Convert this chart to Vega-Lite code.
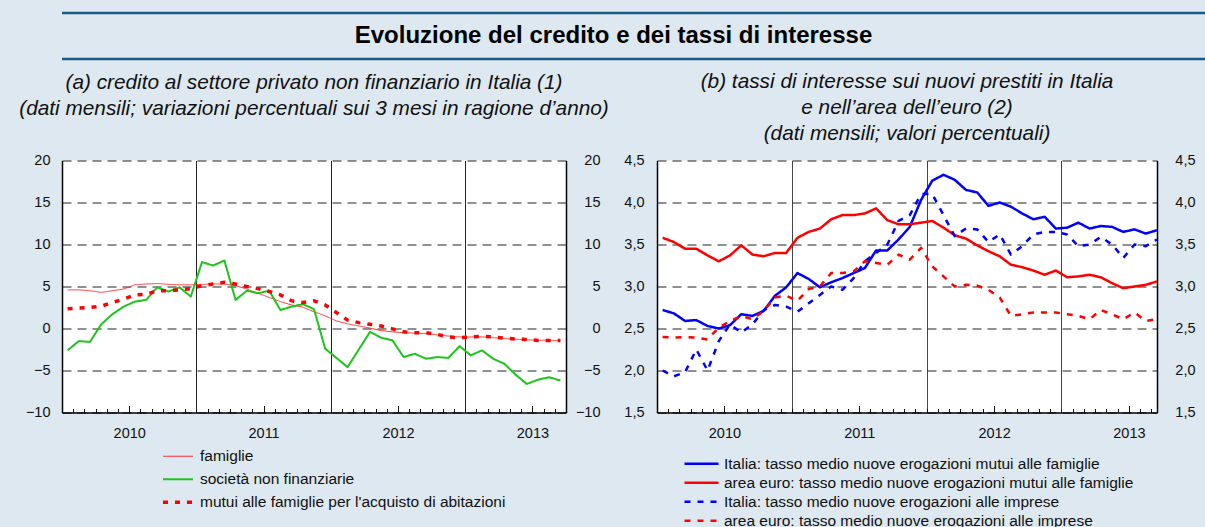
{
"$schema": "https://vega.github.io/schema/vega-lite/v6.json",
"background": "#dde8f0",
"padding": {"left": 8, "top": 11, "right": 0, "bottom": 0},
"config": {
  "font": "Liberation Sans",
  "view": {"stroke": null},
  "style": {"cell": {"stroke": null}},
  "axis": {"labelFont": "Liberation Sans", "labelFontSize": 14.5, "labelColor": "#111", "title": null},
  "legend": {"labelFont": "Liberation Sans", "labelFontSize": 15.5, "labelColor": "#111"}
},
"datasets": {
  "credito": [
    {"m":0,"F":4.6,"S":-2.6,"M":2.35},{"m":1,"F":4.6,"S":-1.5,"M":2.45},{"m":2,"F":4.5,"S":-1.6,"M":2.5},
    {"m":3,"F":4.3,"S":0.5,"M":2.65},{"m":4,"F":4.5,"S":1.7,"M":3.1},{"m":5,"F":4.7,"S":2.6,"M":3.5},
    {"m":6,"F":5.2,"S":3.2,"M":4.0},{"m":7,"F":5.3,"S":3.4,"M":4.05},{"m":8,"F":5.35,"S":4.9,"M":4.5},
    {"m":9,"F":5.25,"S":4.4,"M":4.5},{"m":10,"F":5.2,"S":4.9,"M":4.6},{"m":11,"F":5.2,"S":3.8,"M":4.75},
    {"m":12,"F":5.25,"S":7.9,"M":5.1},{"m":13,"F":5.3,"S":7.5,"M":5.3},{"m":14,"F":5.3,"S":8.1,"M":5.5},
    {"m":15,"F":5.1,"S":3.4,"M":5.3},{"m":16,"F":4.7,"S":4.5,"M":5.0},{"m":17,"F":4.2,"S":4.2,"M":4.75},
    {"m":18,"F":3.7,"S":4.5,"M":4.4},{"m":19,"F":3.2,"S":2.2,"M":4.0},{"m":20,"F":2.8,"S":2.6,"M":3.3},
    {"m":21,"F":2.55,"S":2.9,"M":3.1},{"m":22,"F":2.0,"S":2.3,"M":3.3},{"m":23,"F":1.5,"S":-2.4,"M":2.8},
    {"m":24,"F":0.9,"S":-3.5,"M":1.9},{"m":25,"F":0.55,"S":-4.6,"M":1.0},{"m":26,"F":0.3,"S":-2.5,"M":0.7},
    {"m":27,"F":0.05,"S":-0.4,"M":0.5},{"m":28,"F":-0.25,"S":-1.1,"M":0.3},{"m":29,"F":-0.4,"S":-1.4,"M":-0.05},
    {"m":30,"F":-0.5,"S":-3.4,"M":-0.4},{"m":31,"F":-0.55,"S":-3.0,"M":-0.5},{"m":32,"F":-0.6,"S":-3.6,"M":-0.5},
    {"m":33,"F":-0.75,"S":-3.4,"M":-0.7},{"m":34,"F":-0.9,"S":-3.5,"M":-1.0},{"m":35,"F":-1.0,"S":-2.1,"M":-1.1},
    {"m":36,"F":-1.0,"S":-3.2,"M":-1.0},{"m":37,"F":-1.0,"S":-2.6,"M":-0.92},{"m":38,"F":-1.1,"S":-3.6,"M":-1.0},
    {"m":39,"F":-1.2,"S":-4.2,"M":-1.15},{"m":40,"F":-1.27,"S":-5.5,"M":-1.25},{"m":41,"F":-1.35,"S":-6.6,"M":-1.3},
    {"m":42,"F":-1.4,"S":-6.1,"M":-1.43},{"m":43,"F":-1.4,"S":-5.8,"M":-1.42},{"m":44,"F":-1.45,"S":-6.2,"M":-1.42}
  ],
  "tassi": [
    {"m":0,"IF":2.72,"EF":3.58,"II":2.0,"EI":2.4},{"m":1,"IF":2.68,"EF":3.53,"II":1.93,"EI":2.39},
    {"m":2,"IF":2.59,"EF":3.45,"II":1.98,"EI":2.4},{"m":3,"IF":2.6,"EF":3.45,"II":2.25,"EI":2.39},
    {"m":4,"IF":2.53,"EF":3.37,"II":2.0,"EI":2.37},{"m":5,"IF":2.5,"EF":3.3,"II":2.35,"EI":2.51},
    {"m":6,"IF":2.54,"EF":3.37,"II":2.55,"EI":2.59},{"m":7,"IF":2.67,"EF":3.49,"II":2.45,"EI":2.65},
    {"m":8,"IF":2.65,"EF":3.38,"II":2.55,"EI":2.61},{"m":9,"IF":2.71,"EF":3.36,"II":2.72,"EI":2.71},
    {"m":10,"IF":2.89,"EF":3.4,"II":2.78,"EI":2.87},{"m":11,"IF":2.99,"EF":3.4,"II":2.76,"EI":2.89},
    {"m":12,"IF":3.16,"EF":3.58,"II":2.7,"EI":2.83},{"m":13,"IF":3.09,"EF":3.65,"II":2.8,"EI":2.97},
    {"m":14,"IF":2.99,"EF":3.69,"II":2.9,"EI":3.0},{"m":15,"IF":3.05,"EF":3.8,"II":3.0,"EI":3.16},
    {"m":16,"IF":3.1,"EF":3.85,"II":2.96,"EI":3.16},{"m":17,"IF":3.16,"EF":3.85,"II":3.1,"EI":3.18},
    {"m":18,"IF":3.22,"EF":3.87,"II":3.3,"EI":3.3},{"m":19,"IF":3.43,"EF":3.93,"II":3.4,"EI":3.28},
    {"m":20,"IF":3.43,"EF":3.79,"II":3.5,"EI":3.26},{"m":21,"IF":3.56,"EF":3.74,"II":3.78,"EI":3.38},
    {"m":22,"IF":3.71,"EF":3.74,"II":3.85,"EI":3.32},{"m":23,"IF":4.03,"EF":3.76,"II":4.1,"EI":3.46},
    {"m":24,"IF":4.26,"EF":3.78,"II":4.1,"EI":3.24},{"m":25,"IF":4.33,"EF":3.7,"II":3.85,"EI":3.12},
    {"m":26,"IF":4.27,"EF":3.61,"II":3.6,"EI":3.0},{"m":27,"IF":4.15,"EF":3.57,"II":3.69,"EI":3.02},
    {"m":28,"IF":4.12,"EF":3.49,"II":3.68,"EI":3.01},{"m":29,"IF":3.96,"EF":3.42,"II":3.53,"EI":2.96},
    {"m":30,"IF":4.0,"EF":3.36,"II":3.62,"EI":2.87},{"m":31,"IF":3.95,"EF":3.26,"II":3.38,"EI":2.65},
    {"m":32,"IF":3.87,"EF":3.23,"II":3.48,"EI":2.67},{"m":33,"IF":3.8,"EF":3.19,"II":3.62,"EI":2.69},
    {"m":34,"IF":3.83,"EF":3.14,"II":3.65,"EI":2.69},{"m":35,"IF":3.69,"EF":3.19,"II":3.65,"EI":2.69},
    {"m":36,"IF":3.7,"EF":3.11,"II":3.62,"EI":2.67},{"m":37,"IF":3.76,"EF":3.12,"II":3.48,"EI":2.65},
    {"m":38,"IF":3.69,"EF":3.14,"II":3.5,"EI":2.61},{"m":39,"IF":3.72,"EF":3.11,"II":3.59,"EI":2.72},
    {"m":40,"IF":3.71,"EF":3.04,"II":3.5,"EI":2.67},{"m":41,"IF":3.65,"EF":2.98,"II":3.34,"EI":2.61},
    {"m":42,"IF":3.68,"EF":3.0,"II":3.5,"EI":2.69},{"m":43,"IF":3.63,"EF":3.02,"II":3.48,"EI":2.59},
    {"m":44,"IF":3.67,"EF":3.06,"II":3.56,"EI":2.61}
  ]
},
"spacing": 9.5,
"vconcat": [
  {
    "width": 1143, "height": 46,
    "view": {"stroke": null},
    "data": {"values": [{"y": 0}, {"y": 1}]},
    "layer": [
      {"mark": {"type": "rule", "color": "#1b5c88", "strokeWidth": 2.5},
       "encoding": {"y": {"field": "y", "type": "quantitative", "scale": {"domain": [0, 1], "nice": false}, "axis": null}}},
      {"data": {"values": [{"t": "Evoluzione del credito e dei tassi di interesse"}]},
       "mark": {"type": "text", "font": "Liberation Sans", "fontSize": 24, "fontWeight": "bold", "color": "#000", "baseline": "middle", "align": "center", "dx": -20, "dy": 0},
       "encoding": {"text": {"field": "t", "type": "nominal"}}}
    ]
  },
  {
    "bounds": "flush",
    "spacing": 91,
    "resolve": {
      "scale": {"color": "independent", "strokeDash": "independent", "strokeWidth": "independent"},
      "legend": {"color": "independent", "strokeDash": "independent", "strokeWidth": "independent"}
    },
    "hconcat": [
      {
        "width": 504, "height": 252,
        "view": {"fill": "white", "stroke": null},
        "title": {"text": ["(a) credito al settore privato non finanziario in Italia (1)", "(dati mensili; variazioni percentuali sui 3 mesi in ragione d’anno)"],
                  "font": "Liberation Sans", "fontSize": 20.8, "fontStyle": "italic", "fontWeight": "normal", "lineHeight": 26, "anchor": "middle", "frame": "group", "offset": 32.5, "color": "#111"},
        "data": {"name": "credito"},
        "transform": [{"fold": ["F", "S", "M"], "as": ["s", "v"]}],
        "layer": [
          {
            "mark": {"type": "line", "strokeCap": "butt", "strokeJoin": "round"},
            "encoding": {
              "x": {"field": "m", "type": "quantitative", "scale": {"domain": [-0.5, 44.5], "nice": false, "zero": false},
                    "axis": {"values": [-0.5,0.5,1.5,2.5,3.5,4.5,5.5,6.5,7.5,8.5,9.5,10.5,11.5,12.5,13.5,14.5,15.5,16.5,17.5,18.5,19.5,20.5,21.5,22.5,23.5,24.5,25.5,26.5,27.5,28.5,29.5,30.5,31.5,32.5,33.5,34.5,35.5,36.5,37.5,38.5,39.5,40.5,41.5,42.5,43.5,44.5],
                             "grid": true, "gridColor": "#222", "gridWidth": 1,
                             "gridOpacity": {"condition": {"test": "datum.value == 11.5 || datum.value == 23.5 || datum.value == 35.5", "value": 1}, "value": 0},
                             "ticks": true, "tickColor": "#111", "tickWidth": 1,
                             "tickSize": {"condition": {"test": "(datum.value + 6.5) % 12 == 0", "value": -7}, "value": -4},
                             "domain": true, "domainColor": "#000", "domainWidth": 1.5,
                             "labelExpr": "(datum.value + 6.5) % 12 == 0 ? '' + (2010 + (datum.value - 5.5) / 12) : ''",
                             "labelPadding": 21, "labelOverlap": false, "labelFlush": false, "labelBound": false, "title": null}},
              "y": {"field": "v", "type": "quantitative", "scale": {"domain": [-10, 20], "nice": false, "zero": false},
                    "axis": {"orient": "left", "values": [-10,-5,0,5,10,15,20], "grid": true, "gridDash": [9, 6], "gridColor": "#222", "gridWidth": 1,
                             "domain": true, "domainColor": "#000", "domainWidth": 1.5, "ticks": false, "tickSize": 0, "labelPadding": 12, "minExtent": 54, "title": null}},
              "color": {"field": "s", "type": "nominal", "scale": {"domain": ["F", "S", "M"], "range": ["#ff3030", "#1ec31e", "#ff0000"]},
                        "legend": {"orient": "none", "legendX": 99, "legendY": 284.4, "direction": "vertical", "title": null, "padding": 0, "rowPadding": 0, "clipHeight": 22.7, "symbolSize": 900, "labelOffset": 5, "labelLimit": 700,
                                   "labelExpr": "datum.label == 'F' ? 'famiglie' : datum.label == 'S' ? 'società non finanziarie' : \"mutui alle famiglie per l'acquisto di abitazioni\""}},
              "strokeDash": {"field": "s", "type": "nominal", "scale": {"domain": ["F", "S", "M"], "range": [[1, 0], [1, 0], [5, 7]]},
                        "legend": {"orient": "none", "legendX": 99, "legendY": 284.4, "direction": "vertical", "title": null, "padding": 0, "rowPadding": 0, "clipHeight": 22.7, "symbolSize": 900, "labelOffset": 5, "labelLimit": 700,
                                   "labelExpr": "datum.label == 'F' ? 'famiglie' : datum.label == 'S' ? 'società non finanziarie' : \"mutui alle famiglie per l'acquisto di abitazioni\""}},
              "strokeWidth": {"field": "s", "type": "nominal", "scale": {"type": "ordinal", "domain": ["F", "S", "M"], "range": [1, 2, 3.5]},
                        "legend": {"orient": "none", "legendX": 99, "legendY": 284.4, "direction": "vertical", "title": null, "padding": 0, "rowPadding": 0, "clipHeight": 22.7, "symbolSize": 900, "labelOffset": 5, "labelLimit": 700,
                                   "labelExpr": "datum.label == 'F' ? 'famiglie' : datum.label == 'S' ? 'società non finanziarie' : \"mutui alle famiglie per l'acquisto di abitazioni\""}}
            }
          },
          {
            "mark": {"type": "rule", "opacity": 0},
            "encoding": {
              "y": {"field": "v", "type": "quantitative",
                    "axis": {"orient": "right", "values": [-10,-5,0,5,10,15,20], "grid": false, "domain": true, "domainColor": "#000", "domainWidth": 1.5,
                             "ticks": false, "tickSize": 0, "labelAlign": "right", "labelPadding": 34, "title": null}}
            }
          }
        ],
        "resolve": {"axis": {"y": "independent"}}
      },
      {
        "width": 500, "height": 252,
        "view": {"fill": "white", "stroke": null},
        "title": {"text": ["(b) tassi di interesse sui nuovi prestiti in Italia", "e nell’area dell’euro (2)", "(dati mensili; valori percentuali)"],
                  "font": "Liberation Sans", "fontSize": 20.8, "fontStyle": "italic", "fontWeight": "normal", "lineHeight": 26, "anchor": "middle", "frame": "group", "offset": 7.5, "color": "#111"},
        "data": {"name": "tassi"},
        "transform": [{"fold": ["IF", "EF", "II", "EI"], "as": ["s", "v"]}],
        "layer": [
          {
            "mark": {"type": "line", "strokeWidth": 2.5, "strokeCap": "butt", "strokeJoin": "round"},
            "encoding": {
              "x": {"field": "m", "type": "quantitative", "scale": {"domain": [-0.5, 44], "nice": false, "zero": false},
                    "axis": {"values": [-0.5,0.5,1.5,2.5,3.5,4.5,5.5,6.5,7.5,8.5,9.5,10.5,11.5,12.5,13.5,14.5,15.5,16.5,17.5,18.5,19.5,20.5,21.5,22.5,23.5,24.5,25.5,26.5,27.5,28.5,29.5,30.5,31.5,32.5,33.5,34.5,35.5,36.5,37.5,38.5,39.5,40.5,41.5,42.5,43.5],
                             "grid": true, "gridColor": "#444", "gridWidth": 1,
                             "gridOpacity": {"condition": {"test": "datum.value == 11.5 || datum.value == 23.5 || datum.value == 35.5", "value": 1}, "value": 0},
                             "ticks": true, "tickColor": "#111", "tickWidth": 1,
                             "tickSize": {"condition": {"test": "(datum.value + 6.5) % 12 == 0", "value": -7}, "value": -4},
                             "domain": true, "domainColor": "#000", "domainWidth": 1.5,
                             "labelExpr": "(datum.value + 6.5) % 12 == 0 ? '' + (2010 + (datum.value - 5.5) / 12) : ''",
                             "labelPadding": 21, "labelOverlap": false, "labelFlush": false, "labelBound": false, "title": null}},
              "y": {"field": "v", "type": "quantitative", "scale": {"domain": [1.5, 4.5], "nice": false, "zero": false},
                    "axis": {"orient": "left", "values": [1.5,2,2.5,3,3.5,4,4.5], "grid": true, "gridDash": [9, 6], "gridColor": "#222", "gridWidth": 1,
                             "domain": true, "domainColor": "#000", "domainWidth": 1.5, "ticks": false, "tickSize": 0, "labelPadding": 13, "title": null,
                             "labelExpr": "replace(format(datum.value, '.1f'), '.', ',')"}},
              "color": {"field": "s", "type": "nominal", "scale": {"domain": ["IF", "EF", "II", "EI"], "range": ["#0000ff", "#ff0000", "#0000ff", "#ff0000"]},
                        "legend": {"orient": "none", "legendX": 26, "legendY": 294.3, "direction": "vertical", "title": null, "padding": 0, "rowPadding": 0, "clipHeight": 18.1, "symbolSize": 1156, "symbolStrokeWidth": 2.5, "labelOffset": 4, "labelLimit": 800,
                                   "labelExpr": "datum.label == 'IF' ? 'Italia: tasso medio nuove erogazioni mutui alle famiglie' : datum.label == 'EF' ? 'area euro: tasso medio nuove erogazioni mutui alle famiglie' : datum.label == 'II' ? 'Italia: tasso medio nuove erogazioni alle imprese' : 'area euro: tasso medio nuove erogazioni alle imprese'"}},
              "strokeDash": {"field": "s", "type": "nominal", "scale": {"domain": ["IF", "EF", "II", "EI"], "range": [[1, 0], [1, 0], [6, 7], [6, 7]]},
                        "legend": {"orient": "none", "legendX": 26, "legendY": 294.3, "direction": "vertical", "title": null, "padding": 0, "rowPadding": 0, "clipHeight": 18.1, "symbolSize": 1156, "symbolStrokeWidth": 2.5, "labelOffset": 4, "labelLimit": 800,
                                   "labelExpr": "datum.label == 'IF' ? 'Italia: tasso medio nuove erogazioni mutui alle famiglie' : datum.label == 'EF' ? 'area euro: tasso medio nuove erogazioni mutui alle famiglie' : datum.label == 'II' ? 'Italia: tasso medio nuove erogazioni alle imprese' : 'area euro: tasso medio nuove erogazioni alle imprese'"}}
            }
          },
          {
            "mark": {"type": "rule", "opacity": 0},
            "encoding": {
              "y": {"field": "v", "type": "quantitative",
                    "axis": {"orient": "right", "values": [1.5,2,2.5,3,3.5,4,4.5], "grid": false, "domain": true, "domainColor": "#000", "domainWidth": 1.5,
                             "ticks": false, "tickSize": 0, "labelAlign": "right", "labelPadding": 38, "title": null,
                             "labelExpr": "replace(format(datum.value, '.1f'), '.', ',')"}}
            }
          }
        ],
        "resolve": {"axis": {"y": "independent"}}
      }
    ]
  }
]
}
